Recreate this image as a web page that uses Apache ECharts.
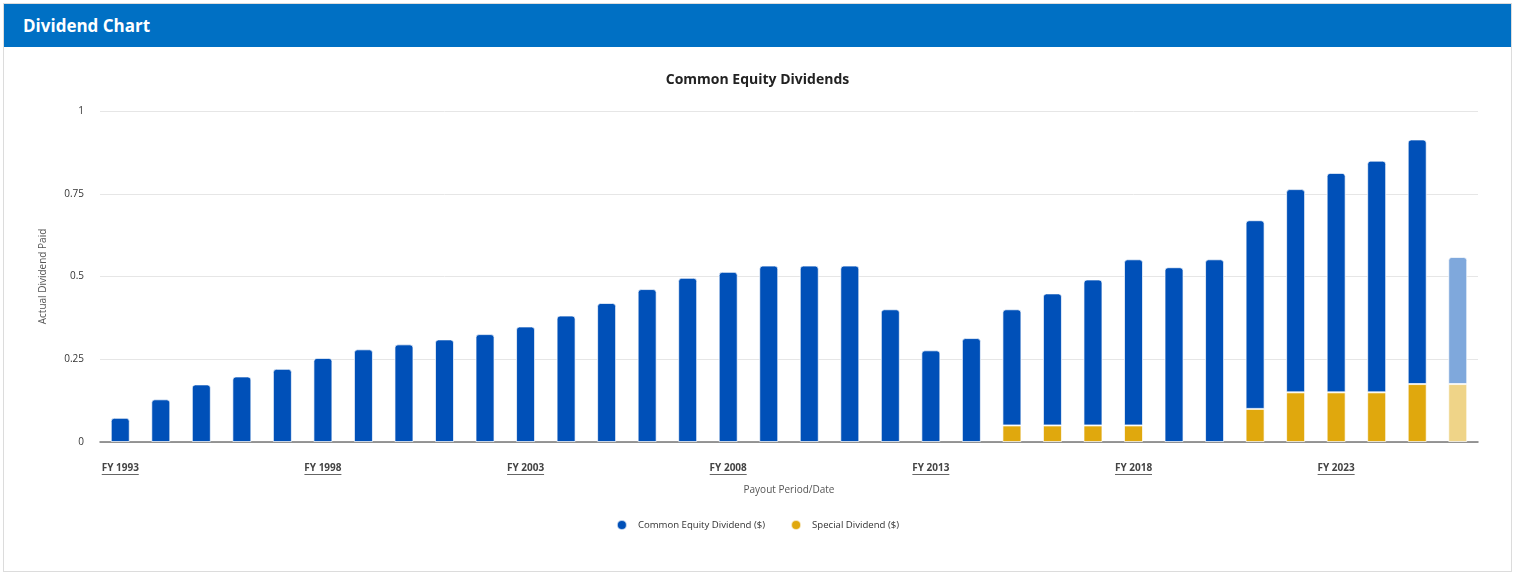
<!DOCTYPE html>
<html>
<head>
  <meta charset="utf-8" />
  <title>Dividend Chart</title>
  <script src="https://cdn.jsdelivr.net/npm/echarts@6.0.0/dist/echarts.min.js"></script>
  <style>
    body { margin: 0; background: #fff; font-family: "Open Sans", sans-serif; }
    #panel { position: absolute; left: 3px; top: 3px; width: 1507px; height: 567px; border: 1px solid #dcdcdc; }
    #header { height: 43px; background: #0070c4; color: #fff; font-weight: 700; font-size: 17px; line-height: 43px; padding-left: 19px; }
    #chart { width: 1507px; height: 524px; }
  </style>
</head>
<body>
  <div id="panel">
    <div id="header">Dividend Chart</div>
    <div id="chart"></div>
  </div>
  <script>
    const years = ['FY 1993', 'FY 1994', 'FY 1995', 'FY 1996', 'FY 1997', 'FY 1998', 'FY 1999',
      'FY 2000', 'FY 2001', 'FY 2002', 'FY 2003', 'FY 2004', 'FY 2005', 'FY 2006', 'FY 2007',
      'FY 2008', 'FY 2009', 'FY 2010', 'FY 2011', 'FY 2012', 'FY 2013', 'FY 2014', 'FY 2015',
      'FY 2016', 'FY 2017', 'FY 2018', 'FY 2019', 'FY 2020', 'FY 2021', 'FY 2022', 'FY 2023',
      'FY 2024', 'FY 2025', 'FY 2026'];
    const commonDiv = [0.073, 0.129, 0.174, 0.198, 0.221, 0.254, 0.280, 0.295, 0.310, 0.326,
      0.349, 0.382, 0.420, 0.462, 0.496, 0.514, 0.533, 0.533, 0.533, 0.401, 0.277, 0.314,
      0.351, 0.399, 0.441, 0.502, 0.528, 0.552, 0.570, 0.614, 0.663, 0.700, 0.739, 0.384];
    const specialDiv = [null, null, null, null, null, null, null, null, null, null, null,
      null, null, null, null, null, null, null, null, null, null, null,
      0.05, 0.05, 0.05, 0.05, null, null, 0.10, 0.15, 0.15, 0.15, 0.175, 0.175];
    const projected = ['FY 2026'];
    const yTicks = [0, 0.25, 0.5, 0.75, 1];

    const blue = '#0050b8', blueLight = '#7fa8dc';
    const gold = '#e0a80d', goldLight = '#efd488';

    function items(values, base, light, radius) {
      return values.map((v, i) => {
        const isProj = projected.indexOf(years[i]) >= 0;
        return {
          value: v == null ? '-' : v,
          itemStyle: { color: isProj ? light : base, borderRadius: radius }
        };
      });
    }

    const chart = echarts.init(document.getElementById('chart'));
    chart.setOption({
      backgroundColor: '#fff',
      textStyle: { fontFamily: 'Open Sans' },
      title: {
        text: 'Common Equity Dividends',
        left: 'center',
        top: 21,
        textStyle: { fontSize: 14, fontWeight: 'bold', color: '#222' }
      },
      legend: {
        bottom: 35,
        left: 'center',
        icon: 'circle',
        itemWidth: 10,
        itemHeight: 10,
        itemGap: 25,
        textStyle: { fontSize: 9.6, color: '#333', padding: [0, 0, 0, 6] },
        data: ['Common Equity Dividend ($)', 'Special Dividend ($)']
      },
      grid: { left: 96, right: 33, top: 64, bottom: 129 },
      xAxis: {
        type: 'category',
        data: years,
        name: 'Payout Period/Date',
        nameLocation: 'middle',
        nameGap: 42,
        nameTextStyle: { fontSize: 10, color: '#555' },
        axisLine: { lineStyle: { color: '#777', width: 1.5 } },
        axisTick: { show: false },
        axisLabel: {
          interval: 4,
          margin: 20,
          formatter: v => '{t|' + v + '}\n{u|}',
          rich: {
            t: { fontSize: 10, fontWeight: 'bold', color: '#444', lineHeight: 12 },
            u: { height: 1, width: 37, backgroundColor: '#666', lineHeight: 1 }
          }
        }
      },
      yAxis: {
        type: 'value',
        min: yTicks[0],
        max: yTicks[yTicks.length - 1],
        interval: 0.25,
        name: 'Actual Dividend Paid',
        nameLocation: 'middle',
        nameGap: 52,
        nameTextStyle: { fontSize: 10, color: '#555' },
        axisLabel: { fontSize: 10, color: '#333', margin: 16 },
        axisLine: { show: false },
        splitLine: { lineStyle: { color: '#e6e6e6' } }
      },
      series: [
        {
          name: 'Special Dividend ($)',
          type: 'bar',
          stack: 'div',
          barWidth: 19,
          itemStyle: { color: gold, borderColor: 'rgba(255,255,255,0.7)', borderWidth: 1 },
          data: items(specialDiv, gold, goldLight, 0)
        },
        {
          name: 'Common Equity Dividend ($)',
          type: 'bar',
          stack: 'div',
          barWidth: 19,
          itemStyle: { color: blue, borderColor: 'rgba(255,255,255,0.7)', borderWidth: 1 },
          data: items(commonDiv, blue, blueLight, [3, 3, 0, 0])
        }
      ]
    });
  </script>
</body>
</html>
